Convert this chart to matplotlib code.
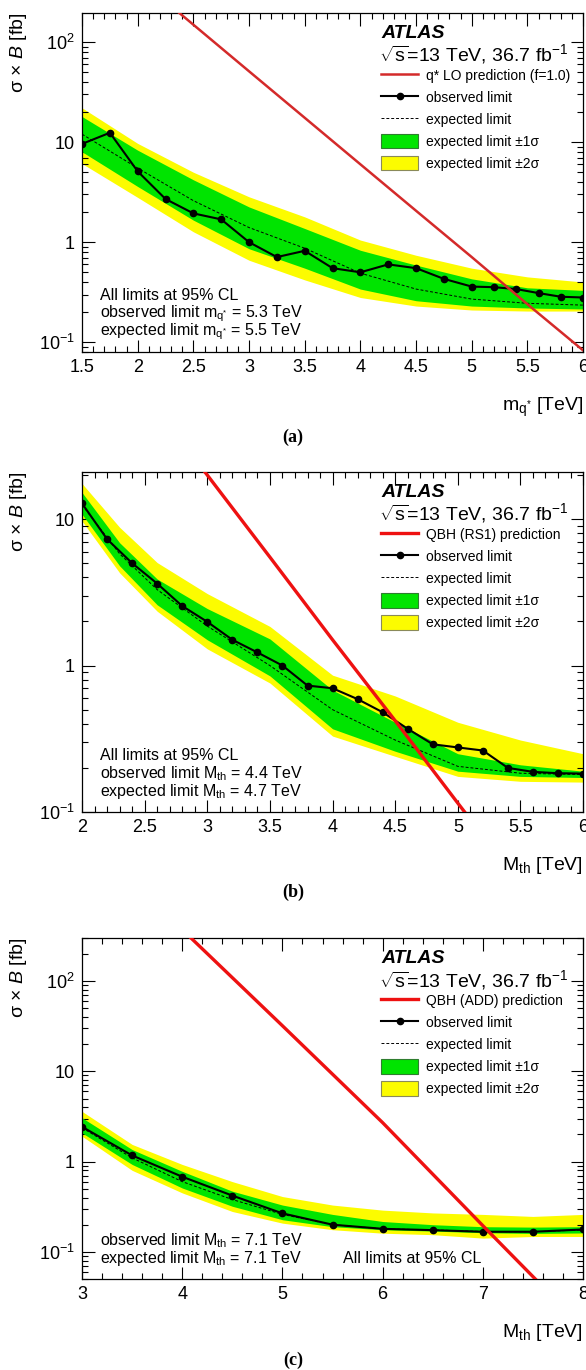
import matplotlib
matplotlib.use("Agg")
import matplotlib.pyplot as plt
from matplotlib.ticker import FixedLocator, FixedFormatter, MultipleLocator, LogLocator, FormatStrFormatter, NullFormatter
from matplotlib.patches import Patch

plt.rcParams['font.family'] = ['Liberation Sans', 'DejaVu Sans']
plt.rcParams['mathtext.fontset'] = 'custom'
plt.rcParams['mathtext.rm'] = 'Liberation Sans'
plt.rcParams['mathtext.it'] = 'Liberation Sans:italic'
plt.rcParams['mathtext.bf'] = 'Liberation Sans:bold'

# ---------------- (a) excited quark ----------------
mq_obs = [1.5, 1.75, 2.0, 2.25, 2.5, 2.75, 3.0, 3.25, 3.5, 3.75, 4.0, 4.25, 4.5, 4.75,
          5.0, 5.2, 5.4, 5.6, 5.8, 6.0]
obs_a = [9.6, 12.4, 5.1, 2.7, 1.94, 1.69, 1.0, 0.71, 0.82, 0.55, 0.50, 0.60, 0.55, 0.43,
         0.36, 0.355, 0.34, 0.31, 0.285, 0.28]
mq_exp = [1.5, 2.0, 2.5, 3.0, 3.5, 4.0, 4.5, 5.0, 5.5, 6.0]
exp_a = [12, 5.5, 2.6, 1.4, 0.87, 0.49, 0.34, 0.27, 0.245, 0.235]
m1_a = [8.0, 3.6, 1.66, 0.86, 0.55, 0.34, 0.26, 0.23, 0.22, 0.215]
p1_a = [18, 8.3, 4.2, 2.25, 1.37, 0.83, 0.59, 0.43, 0.35, 0.33]
m2_a = [6.1, 2.8, 1.27, 0.66, 0.42, 0.28, 0.23, 0.21, 0.205, 0.205]
p2_a = [22, 9.7, 5.0, 2.84, 1.79, 1.05, 0.74, 0.55, 0.45, 0.40]
mq_pred = [2.0, 2.5, 3.0, 3.5, 4.0, 4.5, 5.0, 5.5, 6.0]
pred_a = [435, 149, 51, 17.5, 6.0, 2.06, 0.71, 0.24, 0.083]

# ---------------- (b) QBH RS1 ----------------
mth_obs_b = [2.0, 2.2, 2.4, 2.6, 2.8, 3.0, 3.2, 3.4, 3.6, 3.8, 4.0, 4.2, 4.4, 4.6, 4.8,
             5.0, 5.2, 5.4, 5.6, 5.8, 6.0]
obs_b = [12.8, 7.3, 5.0, 3.63, 2.55, 1.99, 1.5, 1.23, 1.0, 0.73, 0.70, 0.59, 0.48, 0.37, 0.29,
         0.276, 0.263, 0.20, 0.188, 0.184, 0.183]
mth_exp_b = [2.0, 2.3, 2.6, 3.0, 3.5, 4.0, 4.5, 5.0, 5.5, 6.0]
exp_b = [12.5, 5.8, 3.3, 1.86, 1.0, 0.5, 0.31, 0.205, 0.184, 0.18]
m1_b = [10.8, 4.8, 2.6, 1.5, 0.85, 0.37, 0.26, 0.19, 0.175, 0.172]
p1_b = [15.2, 6.9, 3.9, 2.45, 1.52, 0.68, 0.41, 0.25, 0.21, 0.19]
m2_b = [9.7, 4.3, 2.35, 1.3, 0.76, 0.33, 0.24, 0.175, 0.162, 0.16]
p2_b = [17.5, 8.8, 5.05, 3.1, 1.85, 0.86, 0.62, 0.41, 0.31, 0.25]
mth_pred_b = [2.8, 3.0, 3.5, 4.0, 4.5, 5.0, 5.2]
pred_b = [33, 20, 5.5, 1.5, 0.42, 0.115, 0.069]

# ---------------- (c) QBH ADD ----------------
mth_c = [3.0, 3.5, 4.0, 4.5, 5.0, 5.5, 6.0, 6.5, 7.0, 7.5, 8.0]
obs_c = [2.43, 1.17, 0.68, 0.42, 0.267, 0.20, 0.18, 0.174, 0.167, 0.167, 0.177]
exp_c = [2.37, 1.1, 0.60, 0.38, 0.26, 0.20, 0.18, 0.175, 0.168, 0.167, 0.175]
m1_c = [2.08, 0.93, 0.51, 0.32, 0.227, 0.19, 0.176, 0.17, 0.163, 0.16, 0.162]
p1_c = [3.06, 1.36, 0.78, 0.47, 0.33, 0.26, 0.217, 0.20, 0.19, 0.188, 0.19]
m2_c = [1.91, 0.80, 0.45, 0.28, 0.208, 0.176, 0.161, 0.155, 0.142, 0.148, 0.148]
p2_c = [3.6, 1.55, 0.93, 0.60, 0.41, 0.33, 0.29, 0.27, 0.26, 0.247, 0.26]
mth_pred_c = [4.0, 5.0, 6.0, 7.0, 7.6]
pred_c = [372, 32, 2.7, 0.195, 0.041]

GREEN = "#00e400"
YELLOW = "#fcfc00"


def draw_panel(ax, x_obs, y_obs, x_exp, y_exp, lo1, hi1, lo2, hi2, x_pred, y_pred,
               pred_label, pred_color, pred_lw, xlim, ylim, xmajor, xminor,
               yticks, ylabels, xlabel, info_lines, cl_right=False):
    # bandas de +-2 sigma y +-1 sigma
    ax.fill_between(x_exp, lo2, hi2, color=YELLOW, lw=0, zorder=1)
    ax.fill_between(x_exp, lo1, hi1, color=GREEN, lw=0, zorder=2)
    exp_line, = ax.plot(x_exp, y_exp, color="black", ls=(0, (3, 2)), lw=0.7, zorder=3)
    obs_line, = ax.plot(x_obs, y_obs, color="black", lw=1.5, marker="o", ms=4.5, zorder=4)
    pred_line, = ax.plot(x_pred, y_pred, color=pred_color, lw=pred_lw, zorder=5)

    ax.set_yscale("log")
    ax.set_xlim(*xlim)
    ax.set_ylim(*ylim)
    ax.xaxis.set_major_locator(MultipleLocator(xmajor))
    ax.xaxis.set_minor_locator(MultipleLocator(xminor))
    ax.xaxis.set_major_formatter(FormatStrFormatter("%g"))
    ax.yaxis.set_major_locator(FixedLocator(yticks))
    ax.yaxis.set_major_formatter(FixedFormatter(ylabels))
    ax.yaxis.set_minor_locator(LogLocator(base=10, subs=range(2, 10)))
    ax.yaxis.set_minor_formatter(NullFormatter())
    ax.tick_params(which="both", direction="in", top=True, right=True, width=0.8)
    ax.tick_params(which="major", length=9, labelsize=13, pad=5)
    ax.tick_params(which="minor", length=4.5)
    for s in ax.spines.values():
        s.set_linewidth(0.9)

    ax.set_xlabel(xlabel, loc="right", fontsize=14, labelpad=14)
    ax.text(-0.127, 1.0, r"σ × $B$ [fb]", transform=ax.transAxes,
            rotation=90, ha="center", va="top", fontsize=14)

    # ATLAS y leyenda
    ax.text(0.597, 0.94, "ATLAS", transform=ax.transAxes, fontsize=14,
            fontweight="bold", fontstyle="italic", va="center", ha="left")
    ax.text(0.593, 0.878, r"$\sqrt{\mathregular{s}}$=13 TeV, 36.7 fb$^{-1}$",
            transform=ax.transAxes, fontsize=14, va="center", ha="left")
    handles = [pred_line, obs_line, exp_line,
               Patch(facecolor=GREEN, edgecolor="#2f7d2f", lw=0.8),
               Patch(facecolor=YELLOW, edgecolor="#8a8a5a", lw=0.8)]
    labels = [pred_label, "observed limit", "expected limit",
              "expected limit ±1σ", "expected limit ±2σ"]
    ax.legend(handles, labels, loc="upper left", bbox_to_anchor=(0.597, 0.838),
              frameon=False, fontsize=10, handlelength=2.65, handleheight=1.25,
              handletextpad=0.6, labelspacing=0.5, borderpad=0, borderaxespad=0,
              numpoints=1)

    # textos de limites
    n = len(info_lines)
    for i, line in enumerate(info_lines):
        ax.text(0.036, 0.06 + (n - 1 - i) * 0.053, line, transform=ax.transAxes,
                fontsize=11.5, va="center", ha="left")
    if cl_right:
        ax.text(0.52, 0.06, "All limits at 95% CL", transform=ax.transAxes,
                fontsize=11.5, va="center", ha="left")


fig = plt.figure(figsize=(5.86, 13.70), dpi=100)
ax_a = fig.add_axes([0.140, 0.7431, 0.855, 0.2474])
ax_b = fig.add_axes([0.140, 0.4073, 0.855, 0.2482])
ax_c = fig.add_axes([0.140, 0.0664, 0.855, 0.2489])

draw_panel(ax_a, mq_obs, obs_a, mq_exp, exp_a, m1_a, p1_a, m2_a, p2_a, mq_pred, pred_a,
           "q* LO prediction (f=1.0)", "#d42a2a", 1.8, (1.5, 6.0), (0.08, 195), 0.5, 0.1,
           [0.1, 1, 10, 100], [r"$10^{-1}$", "1", "10", r"$10^{2}$"],
           r"m$_{\mathregular{q^{*}}}$ [TeV]",
           ["All limits at 95% CL",
            r"observed limit m$_{\mathregular{q^{*}}}$ = 5.3 TeV",
            r"expected limit m$_{\mathregular{q^{*}}}$ = 5.5 TeV"])

draw_panel(ax_b, mth_obs_b, obs_b, mth_exp_b, exp_b, m1_b, p1_b, m2_b, p2_b, mth_pred_b, pred_b,
           "QBH (RS1) prediction", "#ee1111", 2.4, (2.0, 6.0), (0.1, 21), 0.5, 0.1,
           [0.1, 1, 10], [r"$10^{-1}$", "1", "10"],
           r"M$_{\mathregular{th}}$ [TeV]",
           ["All limits at 95% CL",
            r"observed limit M$_{\mathregular{th}}$ = 4.4 TeV",
            r"expected limit M$_{\mathregular{th}}$ = 4.7 TeV"])

draw_panel(ax_c, mth_c, obs_c, mth_c, exp_c, m1_c, p1_c, m2_c, p2_c, mth_pred_c, pred_c,
           "QBH (ADD) prediction", "#ee1111", 2.4, (3.0, 8.0), (0.05, 300), 1.0, 0.2,
           [0.1, 1, 10, 100], [r"$10^{-1}$", "1", "10", r"$10^{2}$"],
           r"M$_{\mathregular{th}}$ [TeV]",
           [r"observed limit M$_{\mathregular{th}}$ = 7.1 TeV",
            r"expected limit M$_{\mathregular{th}}$ = 7.1 TeV"], cl_right=True)

# etiquetas de subfigura
for lab, yy in [("(a)", 1 - 437 / 1370), ("(b)", 1 - 892 / 1370), ("(c)", 1 - 1360 / 1370)]:
    fig.text(0.5, yy, lab, ha="center", va="center", fontsize=13,
             family="Liberation Serif", fontweight="bold")

fig.savefig("out.png", dpi=100)
